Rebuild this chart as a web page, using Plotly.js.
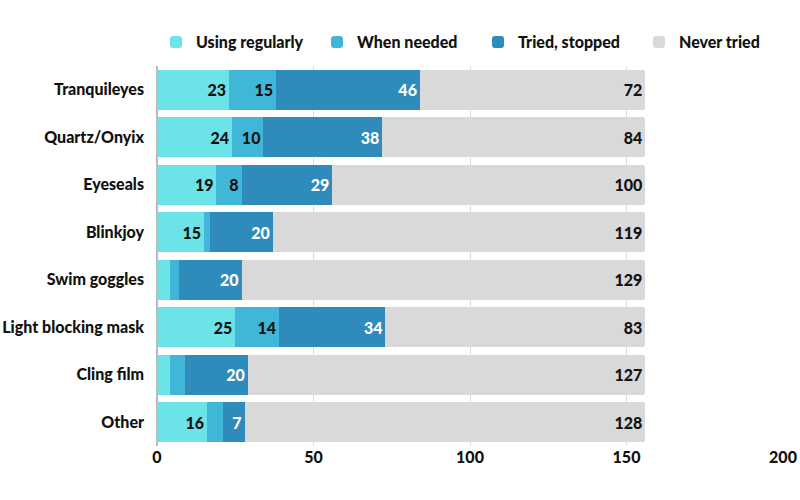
<!DOCTYPE html>
<html>
<head>
<meta charset="utf-8">
<script src="https://cdn.plot.ly/plotly-3.0.1.min.js"></script>
<style>html,body{margin:0;padding:0;background:#fff;}#chart{width:800px;height:500px;}</style>
</head>
<body>
<div id="chart"></div>
<script>
const categories = ["Tranquileyes", "Quartz/Onyix", "Eyeseals", "Blinkjoy", "Swim goggles", "Light blocking mask", "Cling film", "Other"];
const seriesNames = ["Using regularly", "When needed", "Tried, stopped", "Never tried"];
const usingRegularly = [23, 24, 19, 15, 4, 25, 4, 16];
const whenNeeded = [15, 10, 8, 2, 3, 14, 5, 5];
const triedStopped = [46, 38, 29, 20, 20, 34, 20, 7];
const neverTried = [72, 84, 100, 119, 129, 83, 127, 128];
const colors = ["#6be3e8", "#40b7d8", "#2e8bbb", "#d9d9d9"];
const textColors = ["#111111", "#111111", "#ffffff", "#111111"];
const xTicks = [0, 50, 100, 150, 200];

const allSeries = [usingRegularly, whenNeeded, triedStopped, neverTried];
const FONT = "Lato, 'Open Sans', sans-serif";

const traces = allSeries.map((vals, i) => ({
  type: "bar",
  orientation: "h",
  name: seriesNames[i],
  y: categories,
  x: vals,
  marker: { color: colors[i], line: { width: 0 } },
  text: vals.map(v => v >= 7 ? String(v) : ""),
  textposition: "inside",
  insidetextanchor: "end",
  textangle: 0,
  constraintext: "none",
  textfont: { family: FONT, size: 16, color: textColors[i], weight: 900 },
  hoverinfo: "x+name"
}));

const layout = {
  width: 800,
  height: 500,
  barmode: "stack",
  bargap: 0.16,
  barcornerradius: 3,
  paper_bgcolor: "#ffffff",
  plot_bgcolor: "#ffffff",
  margin: { l: 157, r: 17, t: 66, b: 54 },
  font: { family: FONT, size: 14, color: "#111111", weight: 900 },
  showlegend: true,
  legend: {
    orientation: "h",
    x: -0.001, xanchor: "left",
    y: 1.018, yanchor: "bottom",
    entrywidth: 116,
    traceorder: "normal",
    font: { family: FONT, size: 16, color: "#111111", weight: 900 }
  },
  xaxis: {
    range: [0, 200],
    tickvals: xTicks,
    ticktext: xTicks.map(String),
    showgrid: true,
    gridcolor: "#dddddd",
    gridwidth: 1,
    zeroline: true,
    zerolinecolor: "#bbbbbb",
    zerolinewidth: 2,
    showline: false,
    ticks: "",
    tickfont: { family: FONT, size: 16, color: "#111111", weight: 900 },
    fixedrange: true
  },
  yaxis: {
    autorange: "reversed",
    showgrid: false,
    zeroline: false,
    showline: false,
    ticks: "",
    ticklabelstandoff: 12,
    tickfont: { family: FONT, size: 16, color: "#111111", weight: 900 },
    fixedrange: true
  }
};

Plotly.newPlot("chart", traces, layout, { displayModeBar: false, staticPlot: true });
</script>
</body>
</html>
